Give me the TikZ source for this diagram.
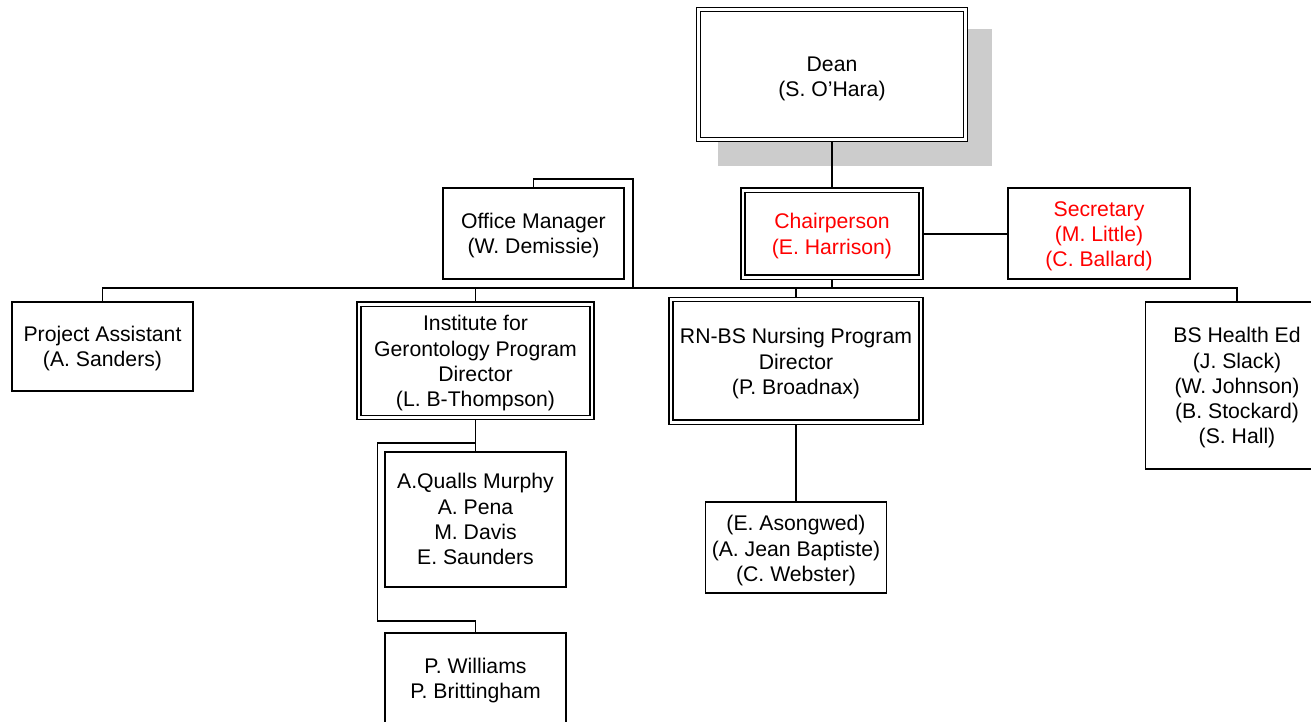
\documentclass[tikz,border=0pt]{standalone}
\usepackage{fontspec}
\setmainfont{Liberation Sans}
\definecolor{shadowgray}{RGB}{204,204,204}
\newcommand{\orgfont}{\fontsize{21.2pt}{25.3pt}\selectfont}
\newcommand{\fstrut}{\rule{0pt}{20pt}}
\tikzset{
  box/.style={draw, line width=1.8pt, rectangle, inner sep=0pt, outer sep=0pt, align=center, font=\orgfont},
  dbox/.style={box, double, double distance=2.8pt, line width=1.4pt, outer sep=2.8pt},
  conn/.style={draw, line width=1.8pt}
}
\begin{document}
\begin{tikzpicture}[x=1pt, y=-1pt]
\useasboundingbox (0,0) rectangle (1311,722);
\clip (0,0) rectangle (1311,722);
% shadow of the Dean box
\fill[shadowgray] (718,29) rectangle (992,166);
% nodes
\node[dbox, fill=white, minimum width=267pt, minimum height=130pt] (dean) at (832,74.5) {\rule{0pt}{23pt}Dean\\(S. O’Hara)};
\node[dbox, text=red, minimum width=178pt, minimum height=87pt] (chair) at (832,233.75) {\fstrut Chairperson\\(E. Harrison)};
\node[box, minimum width=181pt, minimum height=91pt] (om) at (533.5,233.5) {\fstrut Office Manager\\(W. Demissie)};
\node[box, text=red, minimum width=182pt, minimum height=91pt] (sec) at (1099,233.75) {\fstrut Secretary\\(M. Little)\\(C. Ballard)};
\node[box, minimum width=181pt, minimum height=89pt] (pa) at (102.5,346.5) {\fstrut Project Assistant\\(A. Sanders)};
\node[dbox, minimum width=233pt, minimum height=113.3pt] (geron) at (475.5,360.85) {\fstrut Institute for\\Gerontology Program\\Director\\(L. B-Thompson)};
\node[dbox, minimum width=250pt, minimum height=122.7pt] (rn) at (796,360.85) {\rule{0pt}{21pt}RN-BS Nursing Program\\Director\\(P. Broadnax)};
\node[box, minimum width=183pt, minimum height=167.6pt] (bs) at (1237,385.5) {\fstrut BS Health Ed\\(J. Slack)\\(W. Johnson)\\(B. Stockard)\\(S. Hall)};
\node[box, minimum width=181.7pt, minimum height=135.3pt] (aq) at (475.5,519.3) {A.Qualls Murphy\\A. Pena\\M. Davis\\E. Saunders};
\node[box, minimum width=181.7pt, minimum height=91pt] (pw) at (475.5,678.5) {\fstrut P. Williams\\P. Brittingham};
\node[box, minimum width=181pt, minimum height=91pt] (as) at (796,547.8) {\rule{0pt}{21pt}(E. Asongwed)\\(A. Jean Baptiste)\\(C. Webster)};
% junction points
\coordinate (bus) at (832,288);
\coordinate (omtop) at (632.7,179.3);
\coordinate (jl) at (377.5,443);
\coordinate (jb) at (377.5,621);
% connectors
\draw[conn] (dean.south) -- (chair.north);
\draw[conn] (chair.east) -- (chair.east -| sec.west);
\draw[conn] (chair.south) -- (bus);
\draw[conn] (pa.north) |- (bus) -| (bs.north);
\draw[conn] (om.north) |- (omtop) -- (omtop |- bus);
\draw[conn] (geron.north) -- (geron.north |- bus);
\draw[conn] (rn.north) -- (rn.north |- bus);
\draw[conn] (rn.south) -- (as.north);
\draw[conn] (geron.south) -- (aq.north);
\draw[conn] (geron.south |- jl) -- (jl) -- (jb) -| (pw.north);
\end{tikzpicture}
\end{document}
